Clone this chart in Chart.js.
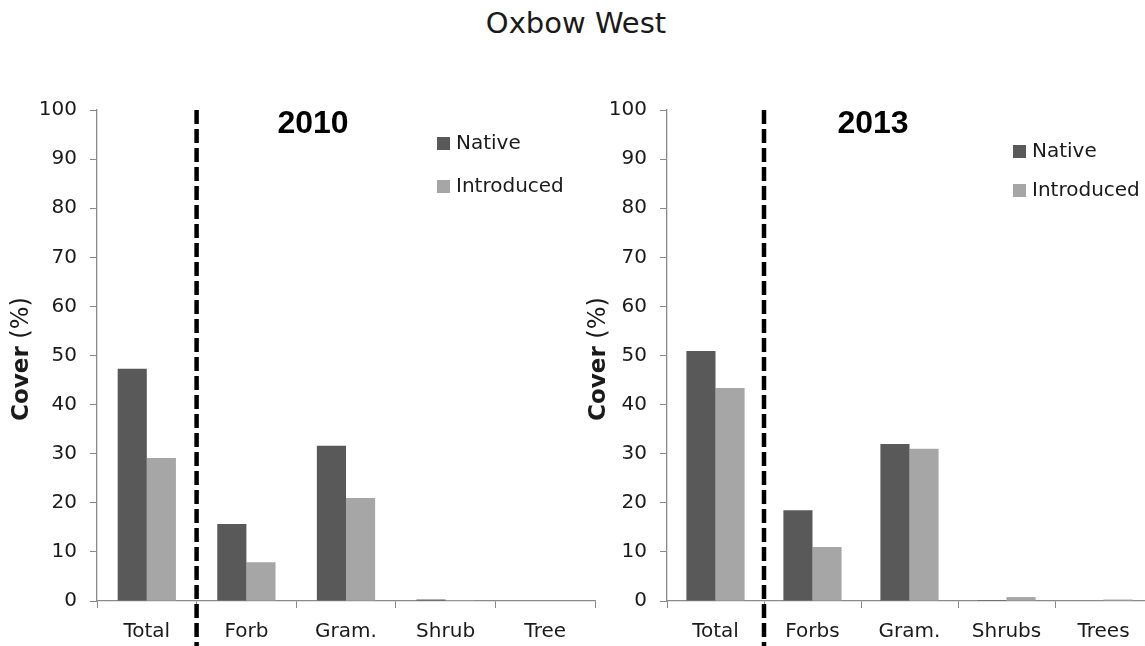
<!DOCTYPE html>
<html>
<head>
<meta charset="utf-8">
<script src="https://cdn.jsdelivr.net/npm/chart.js@4.4.1/dist/chart.umd.min.js"></script>
<style>
  html, body { margin: 0; padding: 0; background: #ffffff; overflow: hidden; width: 1145px; height: 646px; }
  #title { position: absolute; left: 0; top: 9px; width: 1152px; text-align: center; font-family: "DejaVu Sans", sans-serif; font-size: 29px; line-height: 29px; color: #1a1a1a; }
  .box { position: absolute; top: 0; height: 646px; }
  #box1 { left: 0; width: 610px; }
  #box2 { left: 575px; width: 590px; }
</style>
</head>
<body>
<div id="title">Oxbow West</div>
<div class="box" id="box1"><canvas id="c1"></canvas></div>
<div class="box" id="box2"><canvas id="c2"></canvas></div>
<script>
// ---- data ----
const categories2010 = ['Total', 'Forb', 'Gram.', 'Shrub', 'Tree'];
const native2010 = [47.3, 15.7, 31.6, 0.3, 0];
const introduced2010 = [29.1, 7.9, 21.0, 0.2, 0];

const categories2013 = ['Total', 'Forbs', 'Gram.', 'Shrubs', 'Trees'];
const native2013 = [50.9, 18.5, 32.0, 0.2, 0];
const introduced2013 = [43.4, 11.0, 31.0, 0.8, 0.3];

const seriesNames = ['Native', 'Introduced'];
const yAxisTitleBold = 'Cover';
const yAxisTitleRest = ' (%)';
const yearLabels = ['2010', '2013'];
const yMin = 0, yMax = 100, yStep = 10;

// ---- style ----
const NATIVE_COLOR = '#595959';
const INTRO_COLOR = '#a6a6a6';
const AXIS_COLOR = '#8a8a8a';
const TEXT_COLOR = '#1a1a1a';
const FONT = '"DejaVu Sans", sans-serif';

const overlayPlugin = {
  id: 'overlay',
  afterDraw(chart, args, opts) {
    const ctx = chart.ctx;
    const xs = chart.scales.x;
    const area = chart.chartArea;
    ctx.save();
    // dashed separator between first and second category
    const sepX = (xs.getPixelForValue(0) + xs.getPixelForValue(1)) / 2;
    ctx.strokeStyle = '#000000';
    ctx.lineWidth = 4.5;
    ctx.setLineDash([14, 5]);
    ctx.beginPath();
    ctx.moveTo(sepX, area.top);
    ctx.lineTo(sepX, chart.height);
    ctx.stroke();
    ctx.setLineDash([]);

    // year label
    ctx.fillStyle = '#000000';
    ctx.font = 'bold 32px "Liberation Sans", sans-serif';
    ctx.textAlign = 'center';
    ctx.textBaseline = 'alphabetic';
    ctx.fillText(opts.year, opts.yearX, opts.yearY);

    // y-axis title (rotated, mixed weight)
    ctx.translate(opts.yTitleX, opts.yTitleY);
    ctx.rotate(-Math.PI / 2);
    ctx.textBaseline = 'middle';
    ctx.textAlign = 'left';
    ctx.font = 'bold 23px ' + FONT;
    const w1 = ctx.measureText(yAxisTitleBold).width;
    ctx.font = '24px ' + FONT;
    const w2 = ctx.measureText(yAxisTitleRest).width;
    let start = -(w1 + w2) / 2;
    ctx.font = 'bold 23px ' + FONT;
    ctx.fillStyle = TEXT_COLOR;
    ctx.fillText(yAxisTitleBold, start, 0);
    ctx.font = '24px ' + FONT;
    ctx.fillText(yAxisTitleRest, start + w1, 0);
    ctx.setTransform(1, 0, 0, 1, 0, 0);
    ctx.restore();

    // legend
    ctx.save();
    ctx.font = '20px ' + FONT;
    ctx.textBaseline = 'middle';
    ctx.textAlign = 'left';
    chart.data.datasets.forEach((ds, i) => {
      const y = opts.legendY[i];
      ctx.fillStyle = ds.backgroundColor;
      ctx.fillRect(opts.legendX, y - 6, 13, 13);
      ctx.fillStyle = TEXT_COLOR;
      ctx.fillText(ds.label, opts.legendX + 19, y + 1);
    });
    ctx.restore();
  }
};

function makeChart(id, labels, nat, intro, catPct, padRight, overlay) {
  return new Chart(document.getElementById(id), {
    type: 'bar',
    data: {
      labels: labels,
      datasets: [
        { label: seriesNames[0], data: nat, backgroundColor: NATIVE_COLOR, borderWidth: 0 },
        { label: seriesNames[1], data: intro, backgroundColor: INTRO_COLOR, borderWidth: 0 }
      ]
    },
    options: {
      responsive: true,
      maintainAspectRatio: false,
      animation: false,
      events: [],
      layout: { padding: { top: 110, right: padRight, left: 0, bottom: 0 } },
      plugins: {
        legend: { display: false },
        title: { display: false },
        tooltip: { enabled: false },
        overlay: overlay
      },
      datasets: { bar: { categoryPercentage: catPct, barPercentage: 1.0 } },
      scales: {
        x: {
          offset: true,
          grid: { display: true, offset: true, drawOnChartArea: false, drawTicks: true, tickLength: 7, color: AXIS_COLOR, lineWidth: 1 },
          border: { display: true, color: AXIS_COLOR, width: 1.3 },
          ticks: { color: TEXT_COLOR, font: { family: FONT, size: 20 }, padding: 12, maxRotation: 0, autoSkip: false },
          afterFit: (s) => { s.height = 45; }
        },
        y: {
          min: yMin, max: yMax,
          grid: { display: true, drawOnChartArea: false, drawTicks: true, tickLength: 7, color: AXIS_COLOR, lineWidth: 1 },
          border: { display: true, color: AXIS_COLOR, width: 1.3 },
          ticks: { stepSize: yStep, color: TEXT_COLOR, font: { family: FONT, size: 20 }, padding: 13 },
          afterFit: (s) => { s.width = overlay.axisWidth; }
        }
      }
    },
    plugins: [overlayPlugin]
  });
}

makeChart('c1', categories2010, native2010, introduced2010, 0.585, 15, {
  axisWidth: 97, year: yearLabels[0], yearX: 313, yearY: 133,
  yTitleX: 22, yTitleY: 359, legendX: 437, legendY: [143, 186]
});
makeChart('c2', categories2013, native2013, introduced2013, 0.6, 13, {
  axisWidth: 92, year: yearLabels[1], yearX: 298, yearY: 133,
  yTitleX: 24, yTitleY: 359, legendX: 438, legendY: [151, 190]
});
</script>
</body>
</html>
